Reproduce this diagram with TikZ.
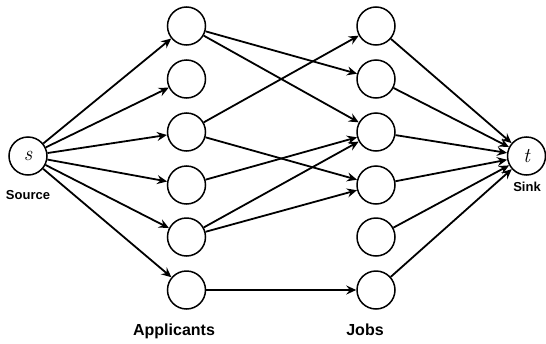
\documentclass[tikz,border=0pt]{standalone}
\usepackage{fontspec}
\setsansfont{Liberation Sans}
\usetikzlibrary{arrows.meta}
\begin{document}
\begin{tikzpicture}[x=1pt,y=-1pt,
  vtx/.style={circle,draw,line width=1.5pt,minimum size=38pt,inner sep=0pt},
  edge/.style={line width=1.8pt,-{Stealth[length=10pt,width=9pt,inset=3.5pt]}},
  lbl/.style={font=\sffamily\bfseries,anchor=base,inner sep=0pt}]
\useasboundingbox (0,0) rectangle (546,343);
\node[vtx] (s) at (28,156) {\fontsize{21}{21}\selectfont\itshape s};
\node[vtx] (t) at (526.5,156) {\fontsize{21}{21}\selectfont\itshape t};
\foreach \i/\y in {1/26,2/79,3/132,4/185,5/237,6/290}{
  \node[vtx] (a\i) at (186.5,\y) {};
  \node[vtx] (j\i) at (376,\y) {};
}
\node[lbl,font=\sffamily\bfseries\fontsize{13}{13}\selectfont] (srcl) at (28,199) {Source};
\node[lbl,font=\sffamily\bfseries\fontsize{13}{13}\selectfont] (snkl) at (527,191) {Sink};
\node[lbl,font=\sffamily\bfseries\fontsize{16}{16}\selectfont] (appl) at (174,335) {Applicants};
\node[lbl,font=\sffamily\bfseries\fontsize{16}{16}\selectfont] (jobl) at (365,335) {Jobs};
\foreach \i in {1,...,6}{
  \draw[edge] (s) -- (a\i);
  \draw[edge] (j\i) -- (t);
}
\draw[edge] (a1) -- (j2);
\draw[edge] (a1) -- (j3);
\draw[edge] (a3) -- (j1);
\draw[edge] (a3) -- (j4);
\draw[edge] (a4) -- (j3);
\draw[edge] (a5) -- (j3);
\draw[edge] (a5) -- (j4);
\draw[edge] (a6) -- (j6);
\end{tikzpicture}
\end{document}
